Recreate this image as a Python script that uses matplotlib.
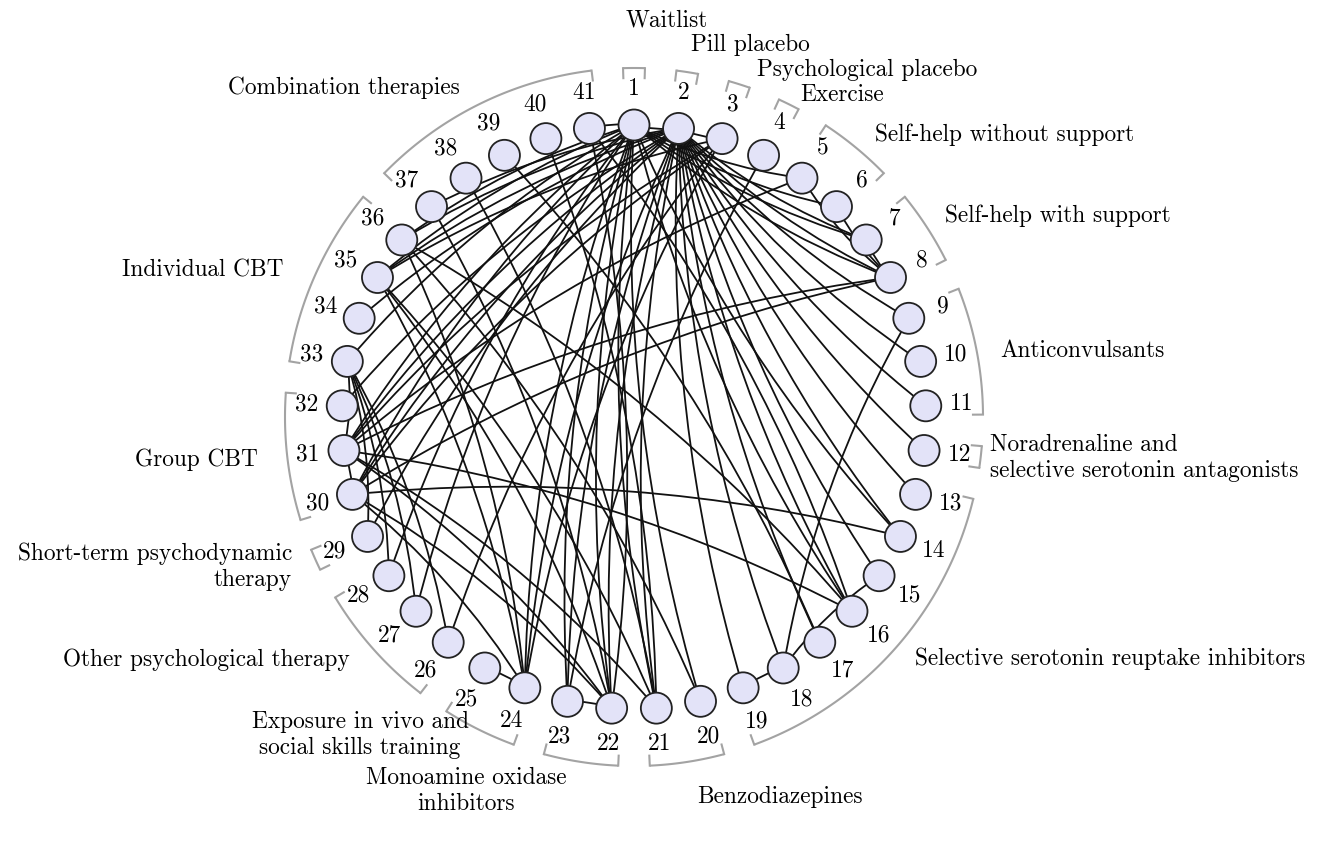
import numpy as np
import matplotlib
matplotlib.use("Agg")
import matplotlib.pyplot as plt
from matplotlib.patches import Circle, PathPatch
from matplotlib.path import Path

# ---- data -------------------------------------------------------------
n_nodes = 41
node_labels = [str(i) for i in range(1, n_nodes + 1)]

# comparisons between interventions (node numbers)
edges = [
    (1, 2), (2, 3), (1, 41), (22, 23), (24, 25), (18, 19), (15, 18),
    (7, 8), (6, 8), (5, 8), (30, 31), (31, 33),
    # waitlist
    (1, 5), (1, 6), (1, 7), (1, 8), (1, 14), (1, 16), (1, 20), (1, 21),
    (1, 22), (1, 23), (1, 24), (1, 27), (1, 28), (1, 30), (1, 31),
    (1, 33), (1, 35), (1, 36),
    # pill placebo
    (2, 7), (2, 8), (2, 9), (2, 10), (2, 11), (2, 12), (2, 13), (2, 14),
    (2, 15), (2, 16), (2, 17), (2, 18), (2, 19), (2, 21), (2, 22),
    (2, 23), (2, 24), (2, 29), (2, 30), (2, 31), (2, 32), (2, 34),
    (2, 35), (2, 36), (2, 37),
    # psychological placebo
    (3, 24), (3, 26), (3, 30), (3, 31), (3, 35),
    # remaining comparisons
    (4, 23), (5, 31), (8, 30), (8, 31), (9, 18),
    (30, 14), (31, 16), (30, 24), (31, 21), (31, 22), (30, 22),
    (33, 26), (33, 27), (33, 28), (33, 29),
    (35, 21), (35, 22), (35, 24), (36, 16), (36, 20), (36, 24),
    (37, 22), (38, 21), (39, 17), (40, 21), (41, 22), (41, 16),
]

# groups: (first node, last node, label)
groups = [
    (1, 1, "Waitlist"),
    (2, 2, "Pill placebo"),
    (3, 3, "Psychological placebo"),
    (4, 4, "Exercise"),
    (5, 6, "Self-help without support"),
    (7, 8, "Self-help with support"),
    (9, 11, "Anticonvulsants"),
    (12, 12, "Noradrenaline and\nselective serotonin antagonists"),
    (13, 19, "Selective serotonin reuptake inhibitors"),
    (20, 21, "Benzodiazepines"),
    (22, 23, "Monoamine oxidase\ninhibitors"),
    (24, 25, "Exposure in vivo and\nsocial skills training"),
    (26, 28, "Other psychological therapy"),
    (29, 29, "Short-term psychodynamic\ntherapy"),
    (30, 32, "Group CBT"),
    (33, 36, "Individual CBT"),
    (37, 41, "Combination therapies"),
]

# ---- layout -----------------------------------------------------------
W, H = 1337, 846
cx, cy = 634.0, 417.0
r_node = 292.0
r_num = 328.0
r_brk = 349.0
tick = 10.0
node_size = 15.5
step = 360.0 / n_nodes

# group label anchors (x, y, ha, va)
label_pos = {
    "Waitlist": (667, 20, "center", "center"),
    "Pill placebo": (750, 45, "center", "center"),
    "Psychological placebo": (757, 70, "left", "center"),
    "Exercise": (800, 95, "left", "center"),
    "Self-help without support": (875, 135, "left", "center"),
    "Self-help with support": (945, 216, "left", "center"),
    "Anticonvulsants": (1000, 351, "left", "center"),
    "Noradrenaline and\nselective serotonin antagonists": (990, 458, "left", "center"),
    "Selective serotonin reuptake inhibitors": (915, 659, "left", "center"),
    "Benzodiazepines": (697, 797, "left", "center"),
    "Monoamine oxidase\ninhibitors": (466, 791, "center", "center"),
    "Exposure in vivo and\nsocial skills training": (360, 735, "center", "center"),
    "Other psychological therapy": (350, 660, "right", "center"),
    "Short-term psychodynamic\ntherapy": (292, 567, "right", "center"),
    "Group CBT": (258, 460, "right", "center"),
    "Individual CBT": (283, 270, "right", "center"),
    "Combination therapies": (460, 88, "right", "center"),
}

FONT = "cmr10"
fs = 16.8


def angle_of(k):
    return np.deg2rad(90.0 - (k - 1) * step)


def pos(k, r=r_node):
    a = angle_of(k)
    return cx + r * np.cos(a), cy - r * np.sin(a)


fig = plt.figure(figsize=(W / 100, H / 100), dpi=100)
ax = fig.add_axes([0, 0, 1, 1])
ax.set_xlim(0, W)
ax.set_ylim(H, 0)
ax.axis("off")

# edges as gently bent curves
bend = np.deg2rad(10)
for i, j in edges:
    a, b = sorted((i, j))
    x0, y0 = pos(a)
    x1, y1 = pos(b)
    dx, dy = x1 - x0, y1 - y0
    L = np.hypot(dx, dy)
    px, py = -dy / L, dx / L
    off = np.tan(bend) * L / 2
    mx, my = (x0 + x1) / 2 + px * off, (y0 + y1) / 2 + py * off
    path = Path([(x0, y0), (mx, my), (x1, y1)],
                [Path.MOVETO, Path.CURVE3, Path.CURVE3])
    ax.add_patch(PathPatch(path, fc="none", ec="#111111", lw=1.3, zorder=1))

# nodes and numbers
for k in range(1, n_nodes + 1):
    x, y = pos(k)
    ax.add_patch(Circle((x, y), node_size, fc="#e3e3f8", ec="#222222",
                        lw=1.3, zorder=3))
    lx, ly = pos(k, r_num)
    ax.text(lx, ly, node_labels[k - 1], fontfamily=FONT, fontsize=fs,
            ha="center", va="center", zorder=4)

# group brackets
margin = 1.8
for first, last, name in groups:
    a1 = 90.0 - (first - 1) * step + margin
    a2 = 90.0 - (last - 1) * step - margin
    t = np.deg2rad(np.linspace(a1, a2, 80))
    xs = cx + r_brk * np.cos(t)
    ys = cy - r_brk * np.sin(t)
    ax.plot(xs, ys, color="#a3a3a3", lw=1.5, zorder=2, solid_capstyle="butt")
    for aa in (t[0], t[-1]):
        ax.plot([cx + r_brk * np.cos(aa), cx + (r_brk - tick) * np.cos(aa)],
                [cy - r_brk * np.sin(aa), cy - (r_brk - tick) * np.sin(aa)],
                color="#a3a3a3", lw=1.5, zorder=2)
    x, y, ha, va = label_pos[name]
    ax.text(x, y, name, fontfamily=FONT, fontsize=fs, ha=ha, va=va,
            multialignment=ha, linespacing=1.2)

fig.savefig("out.png", dpi=100, facecolor="white")
